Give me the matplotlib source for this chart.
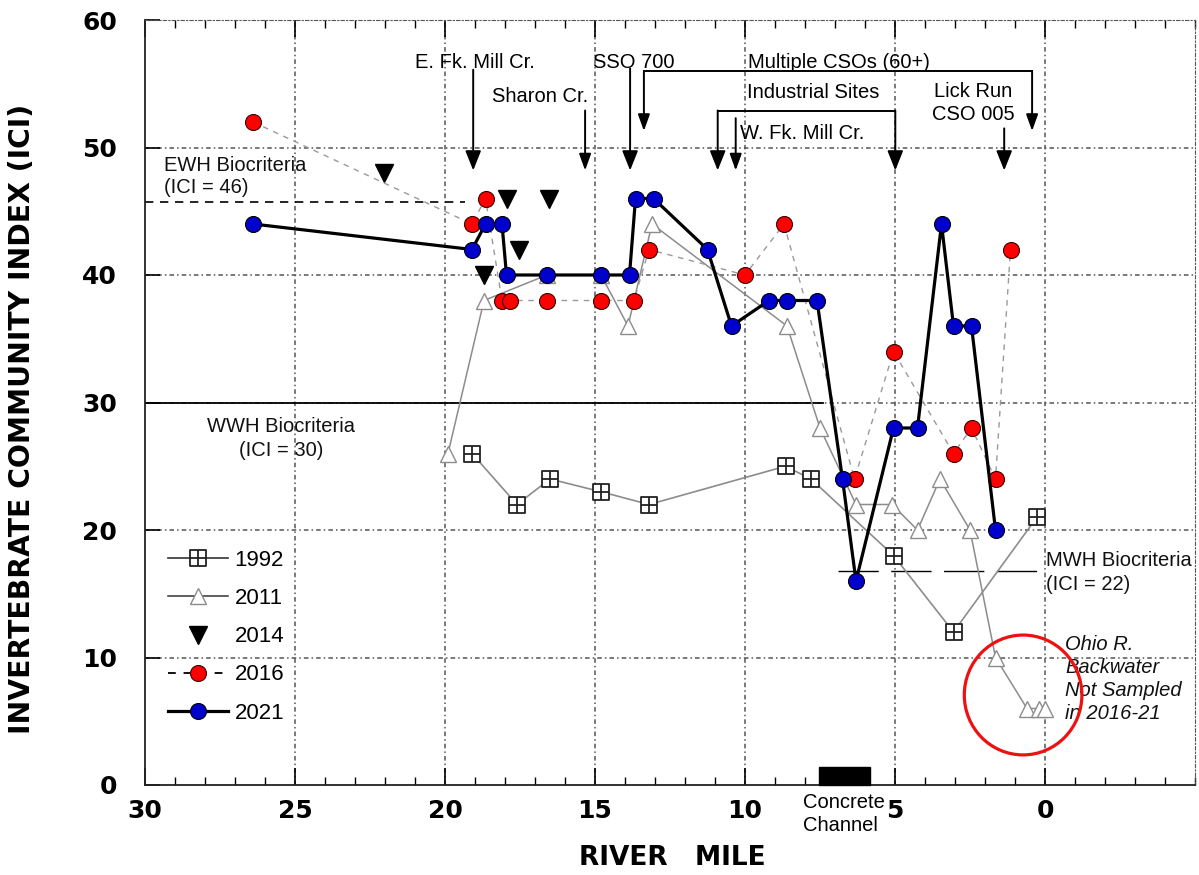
import numpy as np
import matplotlib
matplotlib.use('Agg')
import matplotlib.pyplot as plt
from matplotlib.path import Path
from matplotlib.patches import Ellipse, Rectangle

# ---------------- data ----------------
mile_1992 = [19.1, 17.6, 16.5, 14.8, 13.2, 8.65, 7.8, 5.05, 3.05, 0.27]
ici_1992 = [26, 22, 24, 23, 22, 25, 24, 18, 12, 21]

mile_2011 = [19.9, 18.7, 16.6, 14.8, 13.9, 13.1, 8.6, 7.5, 6.3, 5.1, 4.25, 3.5, 2.5, 1.65, 0.6, 0.2, 0.0]
ici_2011 = [26, 38, 40, 40, 36, 44, 36, 28, 22, 22, 20, 24, 20, 10, 6, 6, 6]

mile_2014 = [22.05, 18.7, 17.95, 17.55, 16.55]
ici_2014 = [48, 40, 46, 42, 46]

mile_2016 = [26.4, 19.1, 18.65, 18.1, 17.85, 16.6, 14.8, 13.7, 13.2, 10.0, 8.7, 6.35, 5.05, 3.05, 2.45, 1.65, 1.15]
ici_2016 = [52, 44, 46, 38, 38, 38, 38, 38, 42, 40, 44, 24, 34, 26, 28, 24, 42]

mile_2021 = [26.4, 19.1, 18.65, 18.1, 17.95, 16.6, 14.8, 13.85, 13.65, 13.05, 11.25, 10.45,
             9.2, 8.6, 7.6, 6.75, 6.3, 5.05, 4.25, 3.45, 3.05, 2.45, 1.65]
ici_2021 = [44, 42, 44, 44, 40, 40, 40, 40, 46, 46, 42, 36, 38, 38, 38, 24, 16, 28, 28, 44, 36, 36, 20]

x_major = [30, 25, 20, 15, 10, 5, 0]
y_major = [0, 10, 20, 30, 40, 50, 60]

ewh_level, ewh_end = 45.7, 19.35
wwh_level, wwh_end = 30, 7.4
mwh_level, mwh_start, mwh_end = 16.8, 6.9, 0.05
channel_start, channel_end, channel_height = 7.55, 5.82, 1.4

# ---------------- figure ----------------
fig = plt.figure(figsize=(11.99, 8.75), dpi=100)
ax = fig.add_axes([145/1199, 90/875, 1050/1199, 765/875])
ax.set_xlim(30, -5)
ax.set_ylim(0, 60)

ann_font = ['Liberation Sans', 'DejaVu Sans']
bold_font = ['DejaVu Sans']

# grid
grid_kw = dict(color='#555555', lw=1.1, ls=(0, (3, 2, 1, 2)), zorder=1)
for xv in [25, 20, 15, 10, 5, 0]:
    ax.axvline(xv, **grid_kw)
for yv in [10, 20, 30, 40, 50]:
    ax.axhline(yv, **grid_kw)

# spines
ax.spines['top'].set_linestyle((0, (3, 2, 1, 2)))
ax.spines['top'].set_color('#555555')
ax.spines['right'].set_linestyle((0, (3, 2, 1, 2)))
ax.spines['right'].set_color('#555555')
for s in ['left', 'bottom']:
    ax.spines[s].set_linewidth(1.3)
    ax.spines[s].set_color('#222222')

ax.set_xticks(x_major)
ax.set_xticks(np.arange(-5, 31, 1), minor=True)
ax.set_yticks(y_major)
ax.tick_params(axis='x', which='major', direction='in', length=12, width=1.2, top=True, pad=10)
ax.tick_params(axis='x', which='minor', direction='in', length=6, width=1.0, top=True)
ax.tick_params(axis='y', which='major', direction='in', length=11, width=1.2, pad=20)
for lab in ax.get_xticklabels() + ax.get_yticklabels():
    lab.set_fontfamily(bold_font)
    lab.set_fontweight('bold')
    lab.set_fontsize(18)

# criteria lines
ax.plot([30, ewh_end], [ewh_level, ewh_level], color='black', lw=1.2, ls=(0, (5, 4)), zorder=2)
ax.plot([30, wwh_end], [wwh_level, wwh_level], color='black', lw=1.3, zorder=2)
ax.plot([mwh_start, mwh_end], [mwh_level, mwh_level], color='black', lw=1.0, dashes=(29, 9), zorder=2)

ax.text(29.35, 48.6, 'EWH Biocriteria', family=ann_font, fontsize=14.5, ha='left', va='center', color='#111111')
ax.text(29.35, 46.9, '(ICI = 46)', family=ann_font, fontsize=14.5, ha='left', va='center', color='#111111')
ax.text(25.47, 28.1, 'WWH Biocriteria', family=ann_font, fontsize=14.5, ha='center', va='center', color='#111111')
ax.text(25.47, 26.2, '(ICI = 30)', family=ann_font, fontsize=14.5, ha='center', va='center', color='#111111')
ax.text(-0.03, 17.6, 'MWH Biocriteria', family=ann_font, fontsize=14.5, ha='left', va='center', color='#111111')
ax.text(-0.03, 15.7, '(ICI = 22)', family=ann_font, fontsize=14.5, ha='left', va='center', color='#111111')

# series
sq_plus = Path([(-1, -1), (1, -1), (1, 1), (-1, 1), (-1, -1), (0, -1), (0, 1), (-1, 0), (1, 0)],
               [Path.MOVETO, Path.LINETO, Path.LINETO, Path.LINETO, Path.CLOSEPOLY,
                Path.MOVETO, Path.LINETO, Path.MOVETO, Path.LINETO])

h1992, = ax.plot(mile_1992, ici_1992, color='#8c8c8c', lw=1.2, marker=sq_plus, ms=12,
                 mfc='white', mec='#222222', mew=1.3, zorder=3, label='1992')
h2011, = ax.plot(mile_2011, ici_2011, color='#8c8c8c', lw=1.1, marker='^', ms=12,
                 mfc='white', mec='#8c8c8c', mew=1.0, zorder=4, label='2011')
h2014, = ax.plot(mile_2014, ici_2014, ls='none', marker='v', ms=13, color='black', zorder=5, label='2014')
h2016, = ax.plot(mile_2016, ici_2016, color='#9a9a9a', lw=1.0, ls=(0, (4, 4)), marker='o', ms=11.5,
                 mfc='#ff0000', mec='#3a0000', mew=0.8, zorder=6, label='2016')
h2021, = ax.plot(mile_2021, ici_2021, color='black', lw=2.3, marker='o', ms=11.5,
                 mfc='#0000cc', mec='black', mew=0.8, zorder=7, label='2021')

leg = ax.legend(handles=[h1992, h2011, h2014, h2016, h2021], loc='upper left',
                bbox_to_anchor=(0.0219, 0.307), frameon=False, borderpad=0, borderaxespad=0,
                handlelength=2.7, handletextpad=0.3, labelspacing=0.77, numpoints=1,
                prop={'family': ann_font, 'size': 16})
for lh in leg.get_lines():
    if lh.get_label() in ('1992', '2011'):
        lh.set_color('#333333')
    elif lh.get_label() == '2016':
        lh.set_color('#111111')
        lh.set_linewidth(1.4)

# concrete channel
ax.add_patch(Rectangle((channel_end, 0), channel_start - channel_end, channel_height,
                       facecolor='black', edgecolor='black', zorder=8, clip_on=False))
ax.text(8.08, -1.4, 'Concrete', family=ann_font, fontsize=14.5, ha='left', va='center', clip_on=False)
ax.text(8.08, -3.2, 'Channel', family=ann_font, fontsize=14.5, ha='left', va='center', clip_on=False)

# Ohio R. backwater
ax.add_patch(Ellipse((0.73, 7.06), 3.92, 9.4, fill=False, edgecolor='#ee1111', lw=2.3, zorder=9))
for txt, yy in [('Ohio R.', 11.0), ('Backwater', 9.2), ('Not Sampled', 7.4), ('in 2016-21', 5.6)]:
    ax.text(-0.67, yy, txt, family=ann_font, fontsize=14.5, style='italic', ha='left', va='center', color='#111111')

# source annotations
def arrow(x, y0, y1, big=True):
    if big:
        st = '-|>,head_length=0.6,head_width=0.24'
    else:
        st = '-|>,head_length=0.5,head_width=0.18'
    ax.annotate('', xy=(x, y1), xytext=(x, y0),
                arrowprops=dict(arrowstyle=st, color='black', lw=1.4, shrinkA=0, shrinkB=0,
                                mutation_scale=20), zorder=10)

ax.text(18.99, 56.7, 'E. Fk. Mill Cr.', family=ann_font, fontsize=14.5, ha='center', va='center')
arrow(19.06, 56.1, 48.2)
ax.text(16.83, 54.0, 'Sharon Cr.', family=ann_font, fontsize=14.5, ha='center', va='center')
arrow(15.33, 52.9, 48.2, big=False)
ax.text(13.70, 56.7, 'SSO 700', family=ann_font, fontsize=14.5, ha='center', va='center')
arrow(13.83, 56.2, 48.2)
ax.text(6.88, 56.7, 'Multiple CSOs (60+)', family=ann_font, fontsize=14.5, ha='center', va='center')
ax.plot([13.37, 0.43], [56.0, 56.0], color='black', lw=1.4, zorder=10)
arrow(13.37, 56.0, 51.3, big=False)
arrow(0.43, 56.0, 51.3, big=False)
ax.text(7.72, 54.3, 'Industrial Sites', family=ann_font, fontsize=14.5, ha='center', va='center')
ax.plot([10.91, 4.99], [52.9, 52.9], color='black', lw=1.4, zorder=10)
arrow(10.91, 52.9, 48.2)
arrow(4.99, 52.9, 48.2)
ax.text(8.08, 51.1, 'W. Fk. Mill Cr.', family=ann_font, fontsize=14.5, ha='center', va='center')
arrow(10.31, 52.3, 48.2, big=False)
ax.text(2.39, 54.4, 'Lick Run', family=ann_font, fontsize=14.5, ha='center', va='center')
ax.text(2.39, 52.6, 'CSO 005', family=ann_font, fontsize=14.5, ha='center', va='center')
arrow(1.36, 51.5, 48.2)

# axis labels
fig.text(22/1199, 1 - 419/875, 'INVERTEBRATE COMMUNITY INDEX (ICI)', rotation=90, ha='center', va='center',
         family=bold_font, fontweight='bold', fontsize=20.3)
fig.text(672/1199, 1 - 858/875, 'RIVER   MILE', ha='center', va='center',
         family=bold_font, fontweight='bold', fontsize=19)

fig.savefig('out.png', dpi=100)
